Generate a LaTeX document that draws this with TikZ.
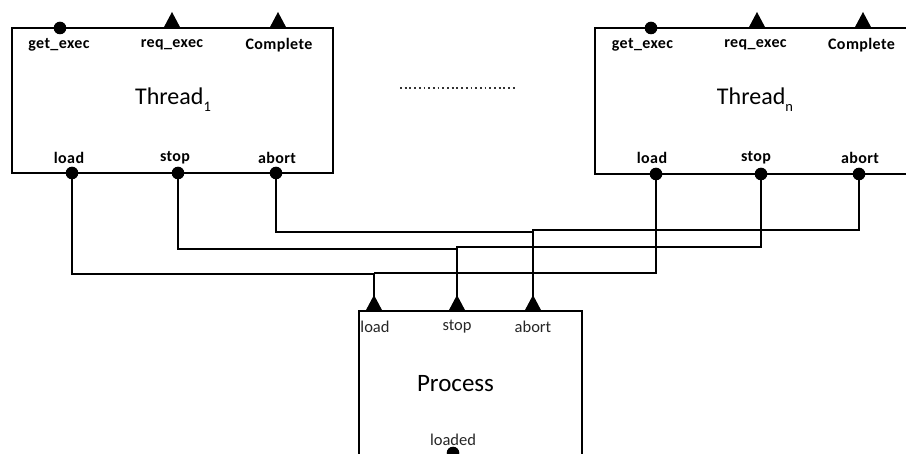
\documentclass[tikz,border=0pt]{standalone}
\usepackage{fontspec}
\setmainfont{Carlito}
\newfontfamily\lblfont[LetterSpace=2.5]{Carlito}
\begin{document}
\begin{tikzpicture}[x=1pt,y=-1pt,
  box/.style={draw,line width=1.9pt,inner sep=0},
  wire/.style={line width=1.7pt},
  tlab/.style={font=\lblfont\fontsize{16}{16}\selectfont\bfseries, inner sep=0},
  plab/.style={font=\fontsize{16.5}{16.5}\selectfont, inner sep=0, text=black!85},
  ttl/.style={font=\fontsize{24}{24}\selectfont, inner sep=0},
  intri/.pic={\fill (-8.5,0) -- (0,-16) -- (8.5,0) -- cycle;},
  outdot/.pic={\fill (0,0) circle[radius=6.3];}
]
\useasboundingbox (0,0) rectangle (906,454);
\clip (0,0) rectangle (906,454);

% boxes
\node[box, minimum width=321pt, minimum height=145pt] (t1) at (172.5,100.5) {};
\node[box, minimum width=320pt, minimum height=146pt] (tn) at (755,101) {};
\node[box, minimum width=223pt, minimum height=144pt] (proc) at (470.5,383) {};

% titles
\node[ttl] (t1title) at (173,100) {Thread\raisebox{-0.28em}{\fontsize{14.5}{14.5}\selectfont 1}};
\node[ttl] (tntitle) at (755,100) {Thread\raisebox{-0.28em}{\fontsize{14.5}{14.5}\selectfont n}};
\node[ttl, font=\fontsize{25}{25}\selectfont] (ptitle) at (455.5,384) {Process};

% dotted separator
\coordinate (dotsA) at (400,88);
\coordinate (dotsB) at (516,88);
\draw[line width=1.8pt, dash pattern=on 1.8pt off 2.9pt, black!80] (dotsA) -- (dotsB);

% port coordinates
\coordinate (t1get) at (60,28);   \coordinate (t1req) at (172,28);  \coordinate (t1cmp) at (278,28);
\coordinate (t1load) at (72,173); \coordinate (t1stop) at (178,173); \coordinate (t1abort) at (276,173);
\coordinate (tnget) at (651,28);  \coordinate (tnreq) at (757,28);  \coordinate (tncmp) at (863,28);
\coordinate (tnload) at (656,174); \coordinate (tnstop) at (761,174); \coordinate (tnabort) at (859,174);
\coordinate (pload) at (374,311); \coordinate (pstop) at (457,311); \coordinate (pabort) at (533,311);
\coordinate (ploaded) at (453,453);

% junctions
\coordinate (jloadL) at (374,274); \coordinate (jloadR) at (374,273);
\coordinate (jstopL) at (457,249); \coordinate (jstopR) at (457,247);
\coordinate (jabortL) at (533,232); \coordinate (jabortR) at (533,230);

% wires
\draw[wire] (t1load) |- (jloadL) -- (pload);
\draw[wire] (tnload) |- (jloadR);
\draw[wire] (t1stop) |- (jstopL);
\draw[wire] (tnstop) |- (jstopR) -- (pstop);
\draw[wire] (t1abort) |- (jabortL);
\draw[wire] (tnabort) |- (jabortR) -- (pabort);

% port symbols
\pic at (t1get) {outdot}; \pic at (t1req) {intri}; \pic at (t1cmp) {intri};
\pic at (t1load) {outdot}; \pic at (t1stop) {outdot}; \pic at (t1abort) {outdot};
\pic at (tnget) {outdot}; \pic at (tnreq) {intri}; \pic at (tncmp) {intri};
\pic at (tnload) {outdot}; \pic at (tnstop) {outdot}; \pic at (tnabort) {outdot};
\pic at (pload) {intri}; \pic at (pstop) {intri}; \pic at (pabort) {intri};
\pic at (ploaded) {outdot};

% port labels
\node[tlab] (l1) at (59,45) {get\_exec};
\node[tlab] (l2) at (172,45) {req\_exec};
\node[tlab] (l3) at (279,45) {Complete};
\node[tlab] (l4) at (69,158) {load};
\node[tlab] (l5) at (175,158) {stop};
\node[tlab] (l6) at (277,158) {abort};
\node[tlab] (l7) at (642.5,45) {get\_exec};
\node[tlab] (l8) at (755.5,45) {req\_exec};
\node[tlab] (l9) at (861.5,45) {Complete};
\node[tlab] (l10) at (652,158) {load};
\node[tlab] (l11) at (756,158) {stop};
\node[tlab] (l12) at (860,158) {abort};
\node[plab] (l13) at (375,327) {load};
\node[plab] (l14) at (457,327) {stop};
\node[plab] (l15) at (533,327) {abort};
\node[plab] (l16) at (453,440) {loaded};
\end{tikzpicture}
\end{document}
